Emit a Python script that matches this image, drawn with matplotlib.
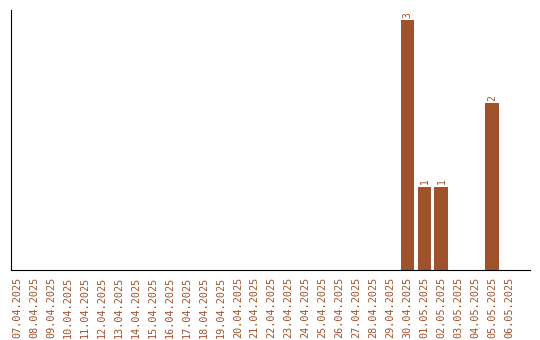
import matplotlib
matplotlib.use("Agg")
import matplotlib.pyplot as plt

# Data
dates = ["07.04.2025", "08.04.2025", "09.04.2025", "10.04.2025", "11.04.2025",
         "12.04.2025", "13.04.2025", "14.04.2025", "15.04.2025", "16.04.2025",
         "17.04.2025", "18.04.2025", "19.04.2025", "20.04.2025", "21.04.2025",
         "22.04.2025", "23.04.2025", "24.04.2025", "25.04.2025", "26.04.2025",
         "27.04.2025", "28.04.2025", "29.04.2025", "30.04.2025", "01.05.2025",
         "02.05.2025", "03.05.2025", "04.05.2025", "05.05.2025", "06.05.2025"]
counts = [0, 0, 0, 0, 0, 0, 0, 0, 0, 0,
          0, 0, 0, 0, 0, 0, 0, 0, 0, 0,
          0, 0, 0, 3, 1, 1, 0, 0, 2, 0]

color = "#A0522D"

fig = plt.figure(figsize=(5.4, 3.4), dpi=100)
ax = fig.add_axes([0.0204, 0.206, 0.9606, 0.764])

x = list(range(len(dates)))
bars = ax.bar(x, counts, width=0.82, color=color)

for xi, v in zip(x, counts):
    if v > 0:
        ax.text(xi, v + 0.03, str(v), rotation=90, ha="center", va="bottom",
                color=color, fontsize=7, family="DejaVu Sans Mono")

ax.set_xlim(-0.35, 30.2)
ax.set_ylim(0, 3.12)
ax.set_xticks(x)
ax.set_xticklabels(dates, rotation=90, color=color, fontsize=7.3,
                   family="DejaVu Sans Mono")
ax.set_yticks([])
ax.tick_params(axis="x", length=0, pad=5)
ax.spines["top"].set_visible(False)
ax.spines["right"].set_visible(False)

fig.savefig("out.png", dpi=100)
